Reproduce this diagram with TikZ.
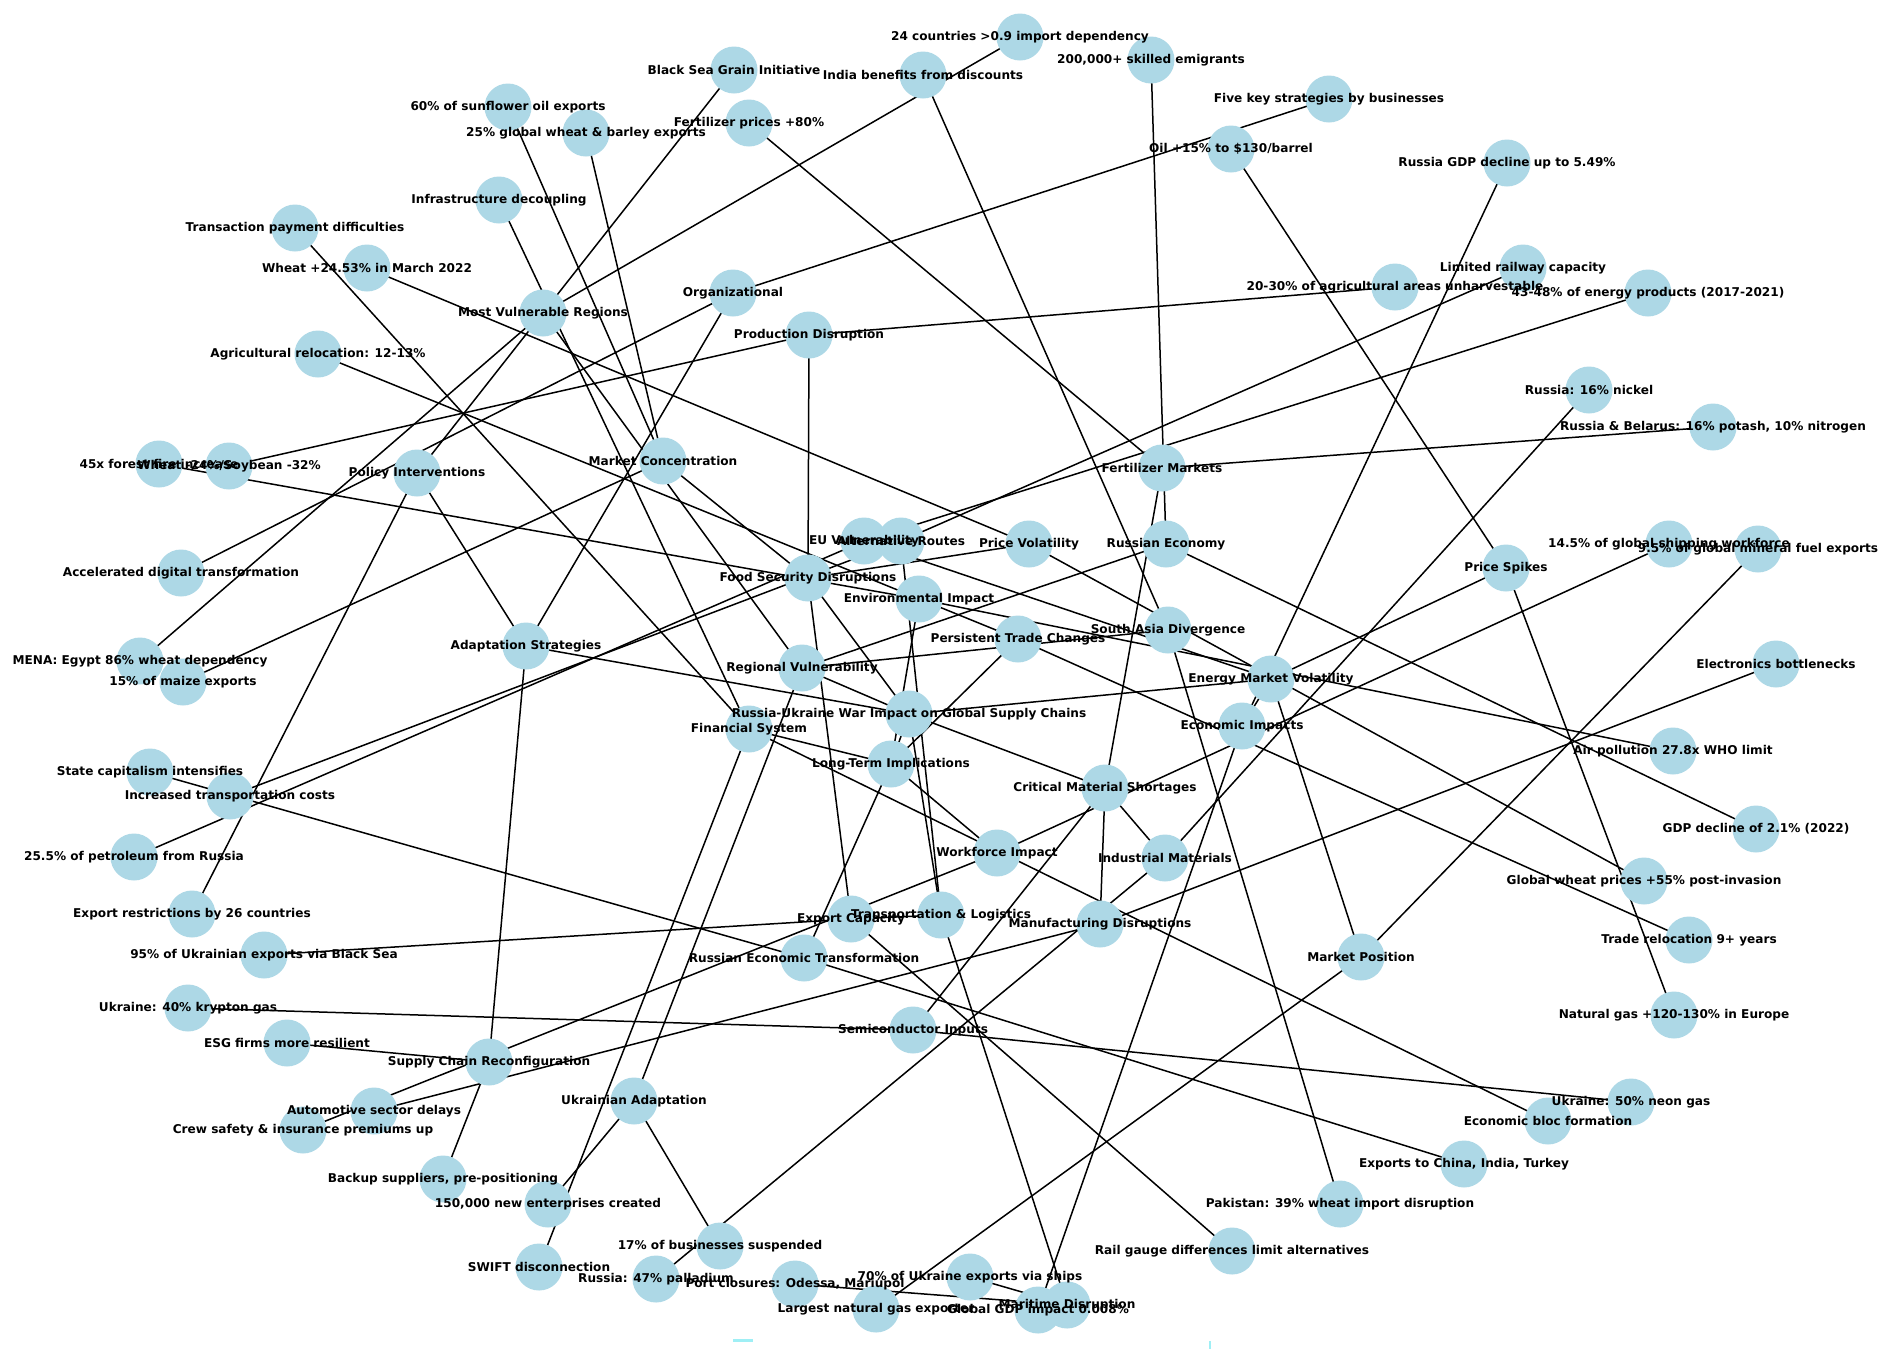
\documentclass[tikz,border=0pt]{standalone}
\usepackage{fontspec}
\setmainfont{DejaVu Sans}
\definecolor{nodeblue}{HTML}{ADD8E6}
\definecolor{markcyan}{HTML}{9FEFF5}
\pgfdeclarelayer{bgfill}
\pgfdeclarelayer{edges}
\pgfsetlayers{bgfill,edges,main}
\begin{document}
\begin{tikzpicture}[x=1pt,y=-1pt,
 vtx/.style={circle,fill=nodeblue,minimum size=47pt,inner sep=0pt},
 lbl/.style={font=\fontsize{12.1}{14}\selectfont\bfseries,inner sep=0pt,text=black},
 edge/.style={line width=1.5pt,black}]
\begin{pgfonlayer}{bgfill}
\fill[white] (0,0) rectangle (1902,1353);
\end{pgfonlayer}
\useasboundingbox (0,0) rectangle (1902,1353);
% nodes
\foreach \n/\x/\y in {R/909/714, FSD/808/578, EMV/1271/679, CMS/1105/788, TL/941/915, EI/1242/726,
  AS/526/646, LTI/891/764, RV/802/668, PD/809/335, PV/1029/544, MC/663/461, MVR/543/313,
  SAD/1168/630, EUV/864/541, AR/901/541, PI/417/473, ORG/733/293, SCR/489/1062, SI/913/1030,
  IM/1165/858, FM/1162/468, MD/1100/924, PS/1506/568, MP/1361/957, MDis/1067/1305, EC/851/919,
  RET/804/958, PTC/1018/639, EnvI/919/599, WI/997/853, FS/749/729, RE/1166/544, UA/634/1101,
  L1/1020/37, L2/734/70, L3/923/75, L4/1151/60, L5/508/107, L6/586/133, L7/749/123, L8/1329/99,
  L9/1231/149, L10/1507/163, L11/499/200, L12/295/228, L13/367/268, L14/1523/268, L15/1395/287,
  L16/1648/293, L17/318/354, L18/1589/390, L19/1713/427, L20/159/464, L21/229/466, L22/1669/544,
  L23/1758/549, L24/181/573, L25/140/661, L26/1776/664, L27/183/682, L28/1673/751, L29/150/772,
  L30/230/796, L31/1756/829, L32/134/857, L33/1644/881, L34/192/914, L35/264/955, L36/1689/940,
  L37/188/1008, L38/1674/1015, L39/287/1043, L40/1631/1102, L41/374/1111, L42/1548/1121,
  L43/303/1130, L44/1464/1164, L45/443/1179, L46/548/1204, L47/1340/1204, L48/720/1246,
  L49/1232/1251, L50/539/1267, L51/656/1279, L52/795/1284, L53/970/1277, L54/876/1309, L55/1038/1310}
  {\node[vtx] (\n) at (\x,\y) {};}
% small cut-off marks at the bottom edge
\fill[markcyan] (733,1339) rectangle (753,1342);
\fill[markcyan] (1209,1341) rectangle (1211,1349);
% labels
\node[lbl] (tR) at (R) {Russia-Ukraine War Impact on Global Supply Chains};
\node[lbl] (tFSD) at (FSD) {Food Security Disruptions};
\node[lbl] (tEMV) at (EMV) {Energy Market Volatility};
\node[lbl] (tCMS) at (CMS) {Critical Material Shortages};
\node[lbl] (tTL) at (TL) {Transportation \& Logistics};
\node[lbl] (tEI) at (EI) {Economic Impacts};
\node[lbl] (tAS) at (AS) {Adaptation Strategies};
\node[lbl] (tLTI) at (LTI) {Long-Term Implications};
\node[lbl] (tRV) at (RV) {Regional Vulnerability};
\node[lbl] (tPD) at (PD) {Production Disruption};
\node[lbl] (tPV) at (PV) {Price Volatility};
\node[lbl] (tMC) at (MC) {Market Concentration};
\node[lbl] (tMVR) at (MVR) {Most Vulnerable Regions};
\node[lbl] (tSAD) at (SAD) {South Asia Divergence};
\node[lbl] (tEUV) at (EUV) {EU Vulnerability};
\node[lbl] (tAR) at (AR) {Alternative Routes};
\node[lbl] (tPI) at (PI) {Policy Interventions};
\node[lbl] (tORG) at (ORG) {Organizational};
\node[lbl] (tSCR) at (SCR) {Supply Chain Reconfiguration};
\node[lbl] (tSI) at (SI) {Semiconductor Inputs};
\node[lbl] (tIM) at (IM) {Industrial Materials};
\node[lbl] (tFM) at (FM) {Fertilizer Markets};
\node[lbl] (tMD) at (MD) {Manufacturing Disruptions};
\node[lbl] (tPS) at (PS) {Price Spikes};
\node[lbl] (tMP) at (MP) {Market Position};
\node[lbl] (tMDis) at (MDis) {Maritime Disruption};
\node[lbl] (tEC) at (EC) {Export Capacity};
\node[lbl] (tRET) at (RET) {Russian Economic Transformation};
\node[lbl] (tPTC) at (PTC) {Persistent Trade Changes};
\node[lbl] (tEnvI) at (EnvI) {Environmental Impact};
\node[lbl] (tWI) at (WI) {Workforce Impact};
\node[lbl] (tFS) at (FS) {Financial System};
\node[lbl] (tRE) at (RE) {Russian Economy};
\node[lbl] (tUA) at (UA) {Ukrainian Adaptation};
\node[lbl] (tL1) at (L1) {24 countries >0.9 import dependency};
\node[lbl] (tL2) at (L2) {Black Sea Grain Initiative};
\node[lbl] (tL3) at (L3) {India benefits from discounts};
\node[lbl] (tL4) at (L4) {200,000+ skilled emigrants};
\node[lbl] (tL5) at (L5) {60\% of sunflower oil exports};
\node[lbl] (tL6) at (L6) {25\% global wheat \& barley exports};
\node[lbl] (tL7) at (L7) {Fertilizer prices +80\%};
\node[lbl] (tL8) at (L8) {Five key strategies by businesses};
\node[lbl] (tL9) at (L9) {Oil +15\% to \$130/barrel};
\node[lbl] (tL10) at (L10) {Russia GDP decline up to 5.49\%};
\node[lbl] (tL11) at (L11) {Infrastructure decoupling};
\node[lbl] (tL12) at (L12) {Transaction payment difficulties};
\node[lbl] (tL13) at (L13) {Wheat +24.53\% in March 2022};
\node[lbl] (tL14) at (L14) {Limited railway capacity};
\node[lbl] (tL15) at (L15) {20-30\% of agricultural areas unharvestable};
\node[lbl] (tL16) at (L16) {43-48\% of energy products (2017-2021)};
\node[lbl] (tL17) at (L17) {Agricultural relocation: 12-13\%};
\node[lbl] (tL18) at (L18) {Russia: 16\% nickel};
\node[lbl] (tL19) at (L19) {Russia \& Belarus: 16\% potash, 10\% nitrogen};
\node[lbl] (tL20) at (L20) {45x forest fire increase};
\node[lbl] (tL21) at (L21) {Wheat -24\%/Soybean -32\%};
\node[lbl] (tL22) at (L22) {14.5\% of global shipping workforce};
\node[lbl] (tL23) at (L23) {9.5\% of global mineral fuel exports};
\node[lbl] (tL24) at (L24) {Accelerated digital transformation};
\node[lbl] (tL25) at (L25) {MENA: Egypt 86\% wheat dependency};
\node[lbl] (tL26) at (L26) {Electronics bottlenecks};
\node[lbl] (tL27) at (L27) {15\% of maize exports};
\node[lbl] (tL28) at (L28) {Air pollution 27.8x WHO limit};
\node[lbl] (tL29) at (L29) {State capitalism intensifies};
\node[lbl] (tL30) at (L30) {Increased transportation costs};
\node[lbl] (tL31) at (L31) {GDP decline of 2.1\% (2022)};
\node[lbl] (tL32) at (L32) {25.5\% of petroleum from Russia};
\node[lbl] (tL33) at (L33) {Global wheat prices +55\% post-invasion};
\node[lbl] (tL34) at (L34) {Export restrictions by 26 countries};
\node[lbl] (tL35) at (L35) {95\% of Ukrainian exports via Black Sea};
\node[lbl] (tL36) at (L36) {Trade relocation 9+ years};
\node[lbl] (tL37) at (L37) {Ukraine: 40\% krypton gas};
\node[lbl] (tL38) at (L38) {Natural gas +120-130\% in Europe};
\node[lbl] (tL39) at (L39) {ESG firms more resilient};
\node[lbl] (tL40) at (L40) {Ukraine: 50\% neon gas};
\node[lbl] (tL41) at (L41) {Automotive sector delays};
\node[lbl] (tL42) at (L42) {Economic bloc formation};
\node[lbl] (tL43) at (L43) {Crew safety \& insurance premiums up};
\node[lbl] (tL44) at (L44) {Exports to China, India, Turkey};
\node[lbl] (tL45) at (L45) {Backup suppliers, pre-positioning};
\node[lbl] (tL46) at (L46) {150,000 new enterprises created};
\node[lbl] (tL47) at (L47) {Pakistan: 39\% wheat import disruption};
\node[lbl] (tL48) at (L48) {17\% of businesses suspended};
\node[lbl] (tL49) at (L49) {Rail gauge differences limit alternatives};
\node[lbl] (tL50) at (L50) {SWIFT disconnection};
\node[lbl] (tL51) at (L51) {Russia: 47\% palladium};
\node[lbl] (tL52) at (L52) {Port closures: Odessa, Mariupol};
\node[lbl] (tL53) at (L53) {70\% of Ukraine exports via ships};
\node[lbl] (tL54) at (L54) {Largest natural gas exporter};
\node[lbl] (tL55) at (L55) {Global GDP impact 0.008\%};
% edges
\begin{pgfonlayer}{edges}
\foreach \a/\b in {R/FSD, R/EMV, R/CMS, R/TL, R/AS, R/LTI, R/RV,
  FSD/PD, FSD/PV, FSD/MC, FSD/EC, PD/L21, PD/L15, PV/L13, PV/L33, MC/L5, MC/L6, MC/L27,
  RV/MVR, RV/SAD, RV/UA, RV/RE, MVR/L1, MVR/L25, SAD/L3, SAD/L47,
  EMV/EUV, EMV/PS, EMV/MP, EMV/EI, EUV/L16, EUV/L32, PS/L9, PS/L38, MP/L54, MP/L23, EI/L10, EI/L55,
  AS/PI, AS/ORG, AS/SCR, PI/L2, PI/L34, ORG/L8, ORG/L24, SCR/L39, SCR/L45, WI/L43,
  CMS/FM, CMS/IM, CMS/MD, CMS/SI, FM/L7, FM/L19, IM/L18, IM/L51, MD/L41, MD/L26, SI/L37, SI/L40,
  TL/AR, TL/MDis, TL/EC, AR/L14, AR/L30, EC/L35, EC/L49, MDis/L52, MDis/L53,
  LTI/PTC, LTI/RET, LTI/EnvI, LTI/WI, LTI/FS, PTC/L36, PTC/L17, RET/L29, RET/L44,
  EnvI/L20, EnvI/L28, WI/L22, FS/L12, FS/L11, FS/L50, FS/L42, RE/L4, RE/L31, UA/L46, UA/L48}
  {\draw[edge] (\a.center) -- (\b.center);}
\end{pgfonlayer}
\end{tikzpicture}
\end{document}
